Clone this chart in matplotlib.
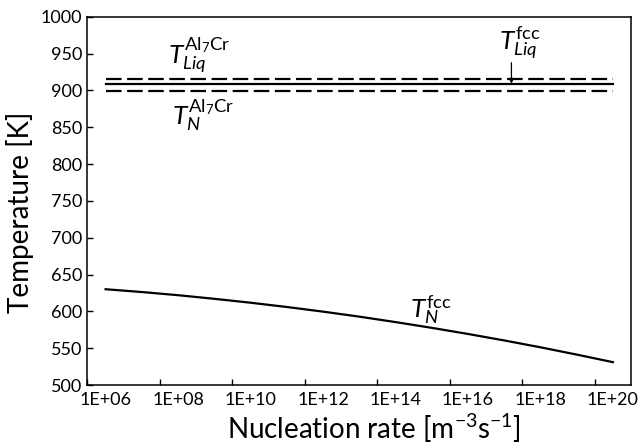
import numpy as np
import matplotlib
matplotlib.use('agg')
import matplotlib.pyplot as plt

plt.rcParams['font.family'] = ['Lato', 'DejaVu Sans']
plt.rcParams['mathtext.fontset'] = 'custom'
plt.rcParams['mathtext.rm'] = 'Lato'
plt.rcParams['mathtext.it'] = 'Lato:italic'

# nucleation rate categories, 1E+06 .. 1E+20 (one per decade)
exponents = np.arange(6, 21)
# nucleation temperature of fcc [K]
t_n_fcc = [630, 626.2, 621.9, 617.0, 611.7, 605.9, 599.6, 592.8,
           585.4, 577.6, 569.3, 560.5, 551.2, 541.3, 531]
t_liq_al7cr = 916
t_liq_fcc = 909
t_n_al7cr = 899

tick_labels = ['1E+%02d' % e for e in exponents[::2]]

fig = plt.figure(figsize=(6.41, 4.47), dpi=100)
ax = fig.add_axes([0.1365, 0.1387, 0.8479, 0.8240])

ax.plot(exponents, t_n_fcc, color='k', lw=1.6)
ax.plot(exponents, [t_liq_fcc] * len(exponents), color='k', lw=1.6)
ax.plot(exponents, [t_liq_al7cr] * len(exponents), color='k', lw=1.6,
        dashes=(7, 2.5))
ax.plot(exponents, [t_n_al7cr] * len(exponents), color='k', lw=1.6,
        dashes=(7, 2.5))

ax.set_xlim(5.5, 20.5)
ax.set_ylim(500, 1000)
ax.set_yticks(np.arange(500, 1001, 50))

# category axis: ticks between categories, labels on the categories
ax.set_xticks(np.arange(5.5, 20.5, 2))
ax.set_xticklabels([])
ax.set_xticks(exponents[::2], minor=True)
ax.set_xticklabels(tick_labels, minor=True)
ax.tick_params(axis='x', which='minor', length=0, pad=5, labelsize=13)
ax.tick_params(axis='x', which='major', direction='in', length=4.5, width=1)
ax.tick_params(axis='y', direction='in', length=4.5, width=1, pad=4,
               labelsize=13)
for s in ax.spines.values():
    s.set_linewidth(1.1)

ax.set_xlabel('Nucleation rate [m$^{-3}$s$^{-1}$]', fontsize=20)
ax.set_ylabel('Temperature [K]', fontsize=20)
ax.xaxis.set_label_coords(0.527, -0.072)
ax.yaxis.set_label_coords(-0.098, 0.47)

fs = 19
ax.text(7.72, 936.7, r'$T_{Liq}^{\mathrm{Al_7Cr}}$', fontsize=fs)
ax.text(7.82, 853, r'$T_{N}^{\mathrm{Al_7Cr}}$', fontsize=fs)
ax.text(16.86, 954.8, r'$T_{Liq}^{\mathrm{fcc}}$', fontsize=fs)
ax.text(14.4, 591, r'$T_{N}^{\mathrm{fcc}}$', fontsize=fs)
ax.annotate('', xy=(17.2, t_liq_fcc), xytext=(17.2, 937.5),
            arrowprops=dict(arrowstyle='-|>', color='k', lw=0.9,
                            mutation_scale=7, shrinkA=0, shrinkB=0))

fig.savefig('out.png')
